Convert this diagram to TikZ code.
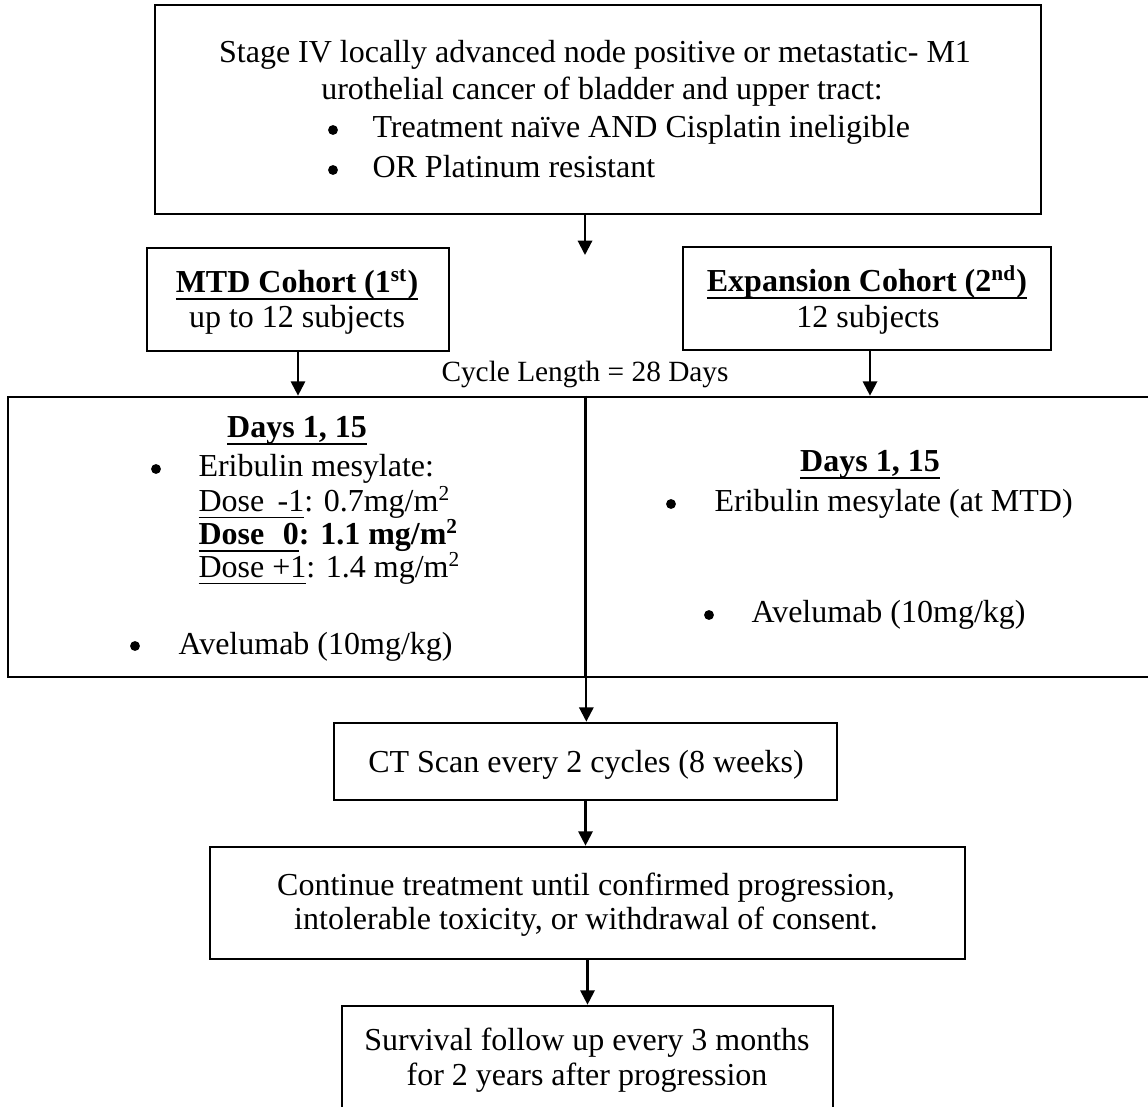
\documentclass[tikz,border=0pt]{standalone}
\usepackage{fontspec}
\setmainfont{Liberation Serif}
\usetikzlibrary{arrows.meta}
\def\pu{0.375}
\newcommand\myul[2][0.6pt]{\leavevmode\setbox0=\hbox{#2}\rlap{\vrule width\wd0 height-1.8pt depth\dimexpr1.8pt+#1\relax}\box0}
\newcommand\myulb[1]{\myul[0.9pt]{#1}}
\begin{document}
\begin{tikzpicture}[x=0.375pt,y=-0.375pt,
  box/.style={draw=black,line width=1pt,inner sep=0pt,fill=none},
  txt/.style={inner sep=0pt,font=\fontsize{12}{14}\selectfont,anchor=base},
  ltxt/.style={txt,anchor=base west},
  dot/.style={circle,fill=black,inner sep=0pt,minimum size=3.7pt},
  small/.style={inner sep=0pt,font=\fontsize{11}{13}\selectfont,anchor=base},
  arr/.style={line width=0.8pt,-{Triangle[length=5.4pt,width=5.4pt]}}]
\path[use as bounding box,clip] (0,0) rectangle (1148,1107);
\fill[white] (0,0) rectangle (1148,1107);
% boxes
\node[box,minimum width=886*\pu pt,minimum height=209*\pu pt] (top) at (598,109.5) {};
\node[box,minimum width=302*\pu pt,minimum height=103*\pu pt] (mtd) at (298,299.5) {};
\node[box,minimum width=368*\pu pt,minimum height=103*\pu pt] (exp) at (867,298.5) {};
\node[box,minimum width=577*\pu pt,minimum height=280*\pu pt] (left) at (296.5,537) {};
\node[box,minimum width=590*\pu pt,minimum height=280*\pu pt] (right) at (880,537) {};
\node[box,minimum width=503*\pu pt,minimum height=77*\pu pt] (ct) at (585.5,761.5) {};
\node[box,minimum width=755*\pu pt,minimum height=112*\pu pt] (cont) at (587.5,903) {};
\node[box,minimum width=491*\pu pt,minimum height=124*\pu pt] (surv) at (587.5,1068) {};
% top box text
\node[txt] (t1) at (595,63) {Stage IV locally advanced node positive or metastatic- M1};
\node[txt] (t2) at (602,100) {urothelial cancer of bladder and upper tract:};
\node[dot] (t3b) at (333,130) {};
\node[ltxt] (t3) at (372,138) {Treatment naïve AND Cisplatin ineligible};
\node[dot] (t4b) at (333,170) {};
\node[ltxt] (t4) at (372,178) {OR Platinum resistant};
% cohort texts
\node[txt] (m1) at (297,293) {\myulb{\textbf{MTD Cohort (1\textsuperscript{st})}}};
\node[txt] (m2) at (297,328) {up to 12 subjects};
\node[txt] (e1) at (867,292) {\myulb{\textbf{Expansion Cohort (2\textsuperscript{nd})}}};
\node[txt] (e2) at (868,328) {12 subjects};
\node[small] (cyc) at (585,382) {Cycle Length = 28 Days};
% left panel
\node[txt] (ld) at (297,438) {\myulb{\textbf{Days 1, 15}}};
\node[dot] (lb1) at (156,469) {};
\node[ltxt] (l1) at (198,477) {Eribulin mesylate:};
\node[ltxt] (l2) at (198,512) {\myul{Dose\hspace{5pt}-1}: 0.7mg/m\textsuperscript{2}};
\node[ltxt] (l3) at (198,545) {\textbf{\myulb{Dose\hspace{7pt}0}: 1.1 mg/m\textsuperscript{2}}};
\node[ltxt] (l4) at (198,578) {\myul{Dose +1}: 1.4 mg/m\textsuperscript{2}};
\node[dot] (lb2) at (135,646) {};
\node[ltxt] (l5) at (178,654) {Avelumab (10mg/kg)};
% right panel
\node[txt] (rd) at (870,472) {\myulb{\textbf{Days 1, 15}}};
\node[dot] (rb1) at (671,504) {};
\node[ltxt] (r1) at (714,512) {Eribulin mesylate (at MTD)};
\node[dot] (rb2) at (709,615) {};
\node[ltxt] (r2) at (751,623) {Avelumab (10mg/kg)};
% lower boxes text
\node[txt] (c1) at (586,772) {CT Scan every 2 cycles (8 weeks)};
\node[txt] (n1) at (586,895) {Continue treatment until confirmed progression,};
\node[txt] (n2) at (586,929) {intolerable toxicity, or withdrawal of consent.};
\node[txt] (s1) at (587,1050) {Survival follow up every 3 months};
\node[txt] (s2) at (587,1085) {for 2 years after progression};
% connectors
\coordinate (split) at (585,255);
\coordinate (expx) at (870,0);
\draw[arr] (top.south -| split) -- (split);
\draw[arr] (mtd.south) -- (mtd.south |- left.north);
\draw[arr] (exp.south -| expx) -- (right.north -| expx);
\draw[arr] (left.north east) -- (left.north east |- ct.north);
\draw[arr] (ct.south) -- (ct.south |- cont.north);
\draw[arr] (cont.south) -- (cont.south |- surv.north);
\end{tikzpicture}
\end{document}
